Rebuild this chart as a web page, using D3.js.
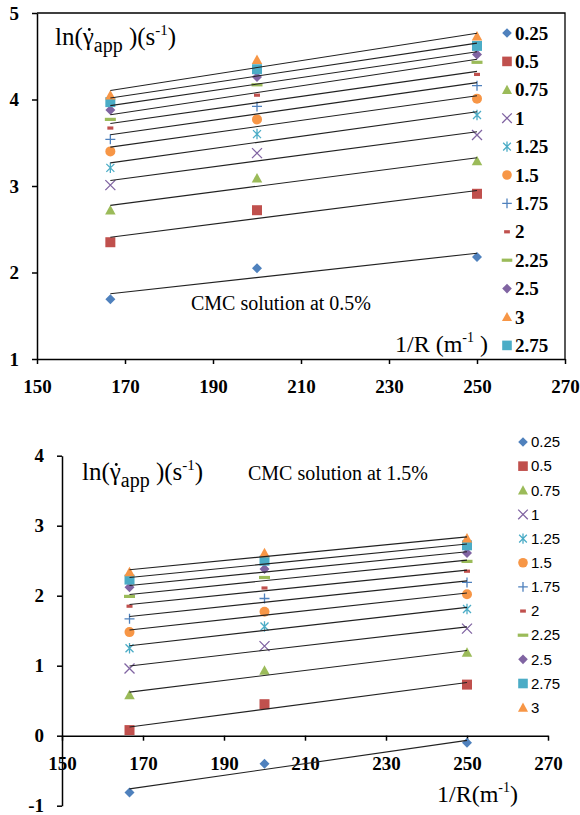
<!DOCTYPE html>
<html>
<head>
<meta charset="utf-8">
<script src="https://cdn.jsdelivr.net/npm/d3@7"></script>
<style>
  body { margin: 0; background: #fff; }
  svg { display: block; }
  .tick text { font-family: "Liberation Serif", serif; font-weight: bold; font-size: 19px; fill: #000; }
</style>
</head>
<body>
<div class="chart"></div>
<script>
// x values: 1/R (m^-1)
const invRadius = [166.67, 200, 250];
const seriesNames = ['0.25', '0.5', '0.75', '1', '1.25', '1.5', '1.75', '2', '2.25', '2.5', '2.75', '3'];
const xTicks = [150, 170, 190, 210, 230, 250, 270];
const yTicksTop = [1, 2, 3, 4, 5];
const yTicksBottom = [-1, 0, 1, 2, 3, 4];

// ln(shear rate) for CMC 0.5 %, one row per series (same order as seriesNames)
const lnRate05 = [
  [1.69, 2.05, 2.18],
  [2.35, 2.72, 2.91],
  [2.72, 3.09, 3.29],
  [3.01, 3.38, 3.59],
  [3.21, 3.60, 3.82],
  [3.40, 3.77, 4.01],
  [3.54, 3.92, 4.16],
  [3.67, 4.05, 4.29],
  [3.77, 4.17, 4.43],
  [3.88, 4.26, 4.52],
  [3.97, 4.35, 4.62],
  [4.05, 4.46, 4.73]
];

// ln(shear rate) for CMC 1.5 %
const lnRate15 = [
  [-0.81, -0.40, -0.10],
  [0.08, 0.45, 0.73],
  [0.58, 0.93, 1.19],
  [0.96, 1.28, 1.53],
  [1.25, 1.56, 1.81],
  [1.48, 1.77, 2.02],
  [1.67, 1.96, 2.19],
  [1.85, 2.11, 2.35],
  [1.99, 2.26, 2.49],
  [2.12, 2.38, 2.61],
  [2.23, 2.50, 2.72],
  [2.34, 2.61, 2.82]
];

const legendOrderTop = ['0.25', '0.5', '0.75', '1', '1.25', '1.5', '1.75', '2', '2.25', '2.5', '3', '2.75'];
const legendOrderBottom = seriesNames;

const seriesColors = ['#4F81BD', '#C0504D', '#9BBB59', '#8064A2', '#4BACC6', '#F79646',
                      '#4F81BD', '#C0504D', '#9BBB59', '#8064A2', '#4BACC6', '#F79646'];
const seriesShapes = ['diamond', 'square', 'triangle', 'x', 'star', 'circle',
                      'plus', 'dash', 'longdash', 'diamond', 'square', 'triangle'];

const svg = d3.select('.chart').append('svg')
  .attr('width', 580)
  .attr('height', 815);

function drawMarker(g, shape, color, s) {
  if (shape === 'diamond') {
    g.append('path').attr('d', `M0,${-s}L${s},0L0,${s}L${-s},0Z`).attr('fill', color);
  } else if (shape === 'square') {
    g.append('rect').attr('x', -s).attr('y', -s).attr('width', 2 * s).attr('height', 2 * s).attr('fill', color);
  } else if (shape === 'triangle') {
    g.append('path').attr('d', `M0,${-s * 1.05}L${s * 1.05},${s * 0.85}L${-s * 1.05},${s * 0.85}Z`).attr('fill', color);
  } else if (shape === 'circle') {
    g.append('circle').attr('r', s).attr('fill', color);
  } else if (shape === 'x') {
    g.append('path').attr('d', `M${-s},${-s}L${s},${s}M${-s},${s}L${s},${-s}`)
      .attr('stroke', color).attr('stroke-width', 1.3).attr('fill', 'none');
  } else if (shape === 'star') {
    g.append('path').attr('d', `M${-s * 0.8},${-s * 0.8}L${s * 0.8},${s * 0.8}M${-s * 0.8},${s * 0.8}L${s * 0.8},${-s * 0.8}M0,${-s * 1.05}L0,${s * 1.05}`)
      .attr('stroke', color).attr('stroke-width', 1.3).attr('fill', 'none');
  } else if (shape === 'plus') {
    g.append('path').attr('d', `M${-s},0L${s},0M0,${-s}L0,${s}`)
      .attr('stroke', color).attr('stroke-width', 1.3).attr('fill', 'none');
  } else if (shape === 'dash') {
    g.append('rect').attr('x', -s * 0.6).attr('y', -1.6).attr('width', s * 1.2).attr('height', 3.2).attr('fill', color);
  } else if (shape === 'longdash') {
    g.append('rect').attr('x', -s * 1.1).attr('y', -1.6).attr('width', s * 2.2).attr('height', 3.2).attr('fill', color);
  }
}

function fitLine(xs, ys) {
  const mx = d3.mean(xs), my = d3.mean(ys);
  let sxy = 0, sxx = 0;
  xs.forEach((x, i) => { sxy += (x - mx) * (ys[i] - my); sxx += (x - mx) * (x - mx); });
  const b = sxy / sxx;
  return x => my + b * (x - mx);
}

function yTitle(x, y, size) {
  const t = svg.append('text')
    .attr('x', x).attr('y', y)
    .attr('font-family', 'Liberation Serif, serif')
    .attr('font-size', size);
  t.append('tspan').text('ln(\u03B3');
  t.append('tspan').attr('font-size', size * 0.8).attr('dy', 7).text('app');
  t.append('tspan').attr('dy', -7).text(' )(s');
  t.append('tspan').attr('font-size', size * 0.6).attr('dy', -10).text('-1');
  t.append('tspan').attr('dy', 10).text(')');
  // dot over gamma
  const ext = t.node().getExtentOfChar(3);
  svg.append('circle')
    .attr('cx', ext.x + ext.width / 2 + 1)
    .attr('cy', y - size * 0.62)
    .attr('r', 1.4)
    .attr('fill', '#000');
}

function drawChart(cfg) {
  const x = d3.scaleLinear().domain([150, 270]).range(cfg.xRange);
  const y = d3.scaleLinear().domain(cfg.yDomain).range(cfg.yRange);
  const g = svg.append('g');

  // axes
  const xAxis = d3.axisBottom(x).tickValues(xTicks).tickSize(5).tickSizeOuter(0).tickPadding(16);
  const yAxis = d3.axisLeft(y).tickValues(cfg.yTicks).tickFormat(d => String(d))
    .tickSize(5).tickSizeOuter(0).tickPadding(cfg.yPad);

  g.append('g')
    .attr('transform', `translate(0,${y(cfg.xAxisAt)})`)
    .call(xAxis)
    .call(a => a.select('.domain').attr('stroke-width', 1.5))
    .call(a => a.selectAll('.tick line').attr('stroke-width', 1.5));

  g.append('g')
    .attr('transform', `translate(${x(150)},0)`)
    .call(yAxis)
    .call(a => a.select('.domain').attr('stroke-width', 1.5))
    .call(a => a.selectAll('.tick line').attr('stroke-width', 1.5));

  if (cfg.box) {
    g.append('path')
      .attr('d', `M${x(150)},${y(cfg.yDomain[1])}H${x(270)}V${y(cfg.yDomain[0])}`)
      .attr('fill', 'none').attr('stroke', '#000').attr('stroke-width', 1.3);
  }

  // markers
  cfg.data.forEach((row, i) => {
    row.forEach((v, j) => {
      const m = g.append('g').attr('transform', `translate(${x(invRadius[j])},${y(v)})`);
      drawMarker(m, seriesShapes[i], seriesColors[i], 5);
    });
  });

  // linear trendlines
  cfg.data.forEach(row => {
    const f = fitLine(invRadius, row);
    g.append('line')
      .attr('x1', x(invRadius[0])).attr('y1', y(f(invRadius[0])))
      .attr('x2', x(invRadius[2])).attr('y2', y(f(invRadius[2])))
      .attr('stroke', '#222').attr('stroke-width', 1.1);
  });

  // legend
  cfg.legendOrder.forEach((name, k) => {
    const i = seriesNames.indexOf(name);
    const ly = cfg.legendY + k * cfg.legendStep;
    const m = g.append('g').attr('transform', `translate(${cfg.legendX},${ly})`);
    drawMarker(m, seriesShapes[i], seriesColors[i], 4.8);
    g.append('text')
      .attr('x', cfg.legendX + 8).attr('y', ly)
      .attr('dy', '0.35em')
      .attr('font-family', cfg.legendFont)
      .attr('font-weight', cfg.legendWeight)
      .attr('font-size', cfg.legendSize)
      .text(name);
  });
}

drawChart({
  xRange: [37, 565], yDomain: [1, 5], yRange: [359, 13],
  yTicks: yTicksTop, xAxisAt: 1, yPad: 13, box: true,
  data: lnRate05,
  legendOrder: legendOrderTop, legendX: 507, legendY: 33, legendStep: 28.4,
  legendFont: 'Liberation Serif, serif', legendWeight: 'bold', legendSize: 19
});

drawChart({
  xRange: [62, 548], yDomain: [-1, 4], yRange: [805.7, 455.7],
  yTicks: yTicksBottom, xAxisAt: 0, yPad: 13, box: false,
  data: lnRate15,
  legendOrder: legendOrderBottom, legendX: 523, legendY: 442, legendStep: 24.15,
  legendFont: 'Liberation Sans, sans-serif', legendWeight: 'normal', legendSize: 15
});

// titles and notes
yTitle(55, 45, 25);
yTitle(82, 480, 25);

svg.append('text').attr('x', 191).attr('y', 310)
  .attr('font-family', 'Liberation Serif, serif').attr('font-size', 20)
  .text('CMC solution at 0.5%');
svg.append('text').attr('x', 248).attr('y', 480)
  .attr('font-family', 'Liberation Serif, serif').attr('font-size', 20)
  .text('CMC solution at 1.5%');

const xTitleTop = svg.append('text').attr('x', 395).attr('y', 352)
  .attr('font-family', 'Liberation Serif, serif').attr('font-size', 24);
xTitleTop.append('tspan').text('1/R (m');
xTitleTop.append('tspan').attr('font-size', 14).attr('dy', -10).text('-1');
xTitleTop.append('tspan').attr('dy', 10).text(' )');

const xTitleBottom = svg.append('text').attr('x', 437).attr('y', 802)
  .attr('font-family', 'Liberation Serif, serif').attr('font-size', 24);
xTitleBottom.append('tspan').text('1/R(m');
xTitleBottom.append('tspan').attr('font-size', 14).attr('dy', -10).text('-1');
xTitleBottom.append('tspan').attr('dy', 10).text(')');
</script>
</body>
</html>
